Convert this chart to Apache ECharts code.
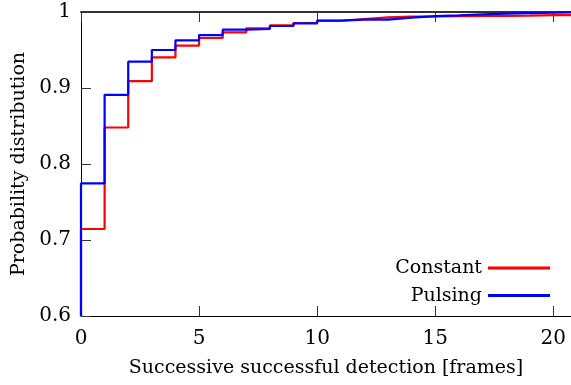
<!DOCTYPE html>
<html><head><meta charset="utf-8">
<script src="https://cdn.jsdelivr.net/npm/echarts@6/dist/echarts.min.js"></script>
<style>html,body{margin:0;padding:0;background:#fff}#c{width:571px;height:385px}</style>
</head><body><div id="c"></div>
<script>
var xValues = [0,1,2,3,4,5,6,7,8,9,10,11,12,13,14,15,16,17,18,19,20];
var constant = [0.7145,0.848,0.909,0.9404,0.9557,0.9658,0.9733,0.9785,0.9825,0.9855,0.9885,0.9908,0.993,0.994,0.9942,0.9945,0.9948,0.995,0.9952,0.9958,0.996];
var pulsing = [0.7746,0.891,0.9346,0.950,0.9627,0.9697,0.9767,0.9776,0.9816,0.9851,0.9886,0.990,0.990,0.9925,0.9947,0.9955,0.997,0.9978,0.9985,0.999,0.9996];
var xTicks = [0,5,10,15,20];
var yTicks = [0.6,0.7,0.8,0.9,1];
var xMax = 20.75, yMin = 0.6, yMax = 1;

function build(vals){
  var d = [[0, yMin]];
  for (var i=0;i<xValues.length;i++) d.push([xValues[i], vals[i]]);
  d.push([xMax, vals[vals.length-1]]);
  return d;
}
var font = "DejaVu Serif";
var fs = 20, fsName = 19;
var chart = echarts.init(document.getElementById('c'));
chart.setOption({
  animation:false,
  backgroundColor:'#fff',
  grid:{left:81,top:12,right:0,bottom:69,outerBoundsMode:'none',containLabel:false},
  legend:{
    orient:'vertical', right:16, top:253, align:'right', itemGap:7.6,
    itemWidth:62, itemHeight:3, icon:'rect',
    textStyle:{fontFamily:font,fontSize:fsName,lineHeight:20,color:'#000',padding:[0,1,0,0]},
    data:['Constant','Pulsing']
  },
  xAxis:[{
    type:'value', min:0, max:xMax, interval:5,
    name:'Successive successful detection [frames]', nameLocation:'middle', nameGap:43,
    nameTextStyle:{fontFamily:font,fontSize:fsName,color:'#000'},
    axisLine:{lineStyle:{color:'#000',width:1}},
    axisTick:{inside:true,length:10,lineStyle:{color:'#333'}},
    axisLabel:{fontFamily:font,fontSize:fs,color:'#000',margin:13},
    splitLine:{show:false}
  },{
    type:'value', min:0, max:xMax, interval:5, position:'top',
    axisLine:{lineStyle:{color:'#333',width:2}},
    axisTick:{inside:true,length:10,lineStyle:{color:'#333'}},
    axisLabel:{show:false}, splitLine:{show:false}
  }],
  yAxis:{
    type:'value', min:yMin, max:yMax, interval:0.1,
    name:'Probability distribution', nameLocation:'middle', nameGap:46,
    nameTextStyle:{fontFamily:font,fontSize:fsName,color:'#000'},
    axisLine:{show:true,lineStyle:{color:'#000',width:1}},
    axisTick:{inside:true,length:10,lineStyle:{color:'#333'}},
    axisLabel:{fontFamily:font,fontSize:fs,color:'#000',margin:10},
    splitLine:{show:false}
  },
  series:[
    {name:'Constant',type:'line',step:'end',symbol:'none',data:build(constant),
     lineStyle:{color:'#ff0000',width:2.2},itemStyle:{color:'#ff0000'}},
    {name:'Pulsing',type:'line',step:'end',symbol:'none',data:build(pulsing),
     lineStyle:{color:'#0000ff',width:2.2},itemStyle:{color:'#0000ff'}}
  ]
});
</script></body></html>
